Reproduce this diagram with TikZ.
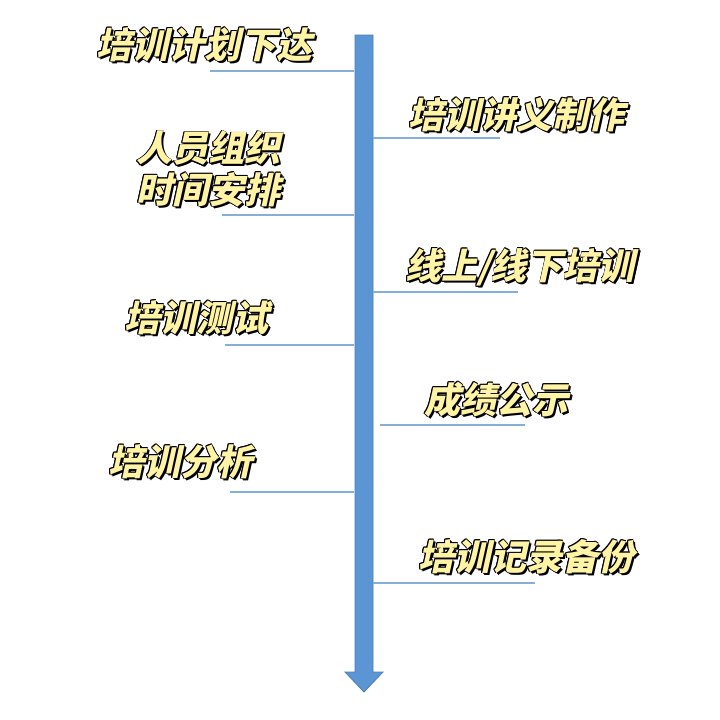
\documentclass[tikz,border=0pt]{standalone}
\usepackage{fontspec}
\newfontfamily\cjk{Noto Sans CJK SC}[FakeSlant=0.22]
\definecolor{arrowblue}{HTML}{5B95D3}
\definecolor{arrowedge}{HTML}{4A7FBA}
\definecolor{lineblue}{HTML}{86AEDA}
\definecolor{txtyellow}{HTML}{FFF3A6}
\newcommand{\shd}[3]{\makebox[0pt][l]{\hspace*{#1}\raisebox{#2}{\color{black}#3}}}
\newcommand{\fancy}[1]{\shd{2pt}{-2pt}{#1}\shd{1.3pt}{-1.3pt}{#1}\shd{0.8pt}{0pt}{#1}\shd{-0.8pt}{0pt}{#1}\shd{0pt}{0.8pt}{#1}\shd{0pt}{-0.8pt}{#1}\shd{0.6pt}{0.6pt}{#1}\shd{-0.6pt}{-0.6pt}{#1}\shd{0.6pt}{-0.6pt}{#1}\shd{-0.6pt}{0.6pt}{#1}{\color{txtyellow}#1}}
\begin{document}
\begin{tikzpicture}[x=1pt,y=-1pt,
  lbl/.style={font=\cjk\bfseries\fontsize{36}{44}\selectfont, align=center, inner sep=0pt},
  tick/.style={draw=lineblue, line width=1.2pt}]
\useasboundingbox (0,0) rectangle (720,720);
\fill[white] (0,0) rectangle (720,720);
\draw[fill=arrowblue, draw=arrowedge, line width=0.8pt]
  (355,35) -- (373,35) -- (373,672) -- (383,672) -- (364,692) -- (345,672) -- (355,672) -- cycle;
\coordinate (l1a) at (210,71);  \coordinate (l1b) at (354,71);
\coordinate (r1a) at (373,138); \coordinate (r1b) at (500,138);
\coordinate (l2a) at (222,215); \coordinate (l2b) at (354,215);
\coordinate (r2a) at (373,292); \coordinate (r2b) at (518,292);
\coordinate (l3a) at (225,345); \coordinate (l3b) at (354,345);
\coordinate (r3a) at (380,425); \coordinate (r3b) at (525,425);
\coordinate (l4a) at (230,492); \coordinate (l4b) at (354,492);
\coordinate (r4a) at (373,583); \coordinate (r4b) at (535,583);
\foreach \a/\b in {l1a/l1b,r1a/r1b,l2a/l2b,r2a/r2b,l3a/l3b,r3a/r3b,l4a/l4b,r4a/r4b}
  \draw[tick] (\a) -- (\b);
\node[lbl] (t1) at (204,45) {\fancy{培训计划下达}};
\node[lbl] (t2) at (516,115) {\fancy{培训讲义制作}};
\node[lbl] (t3a) at (208,149) {\fancy{人员组织}};
\node[lbl] (t3b) at (208,190) {\fancy{时间安排}};
\node[lbl] (t4) at (520,268) {\fancy{线上/线下培训}};
\node[lbl] (t5) at (196,318) {\fancy{培训测试}};
\node[lbl] (t6) at (496,400) {\fancy{成绩公示}};
\node[lbl] (t7) at (180,462) {\fancy{培训分析}};
\node[lbl] (t8) at (526,557) {\fancy{培训记录备份}};
\end{tikzpicture}
\end{document}
